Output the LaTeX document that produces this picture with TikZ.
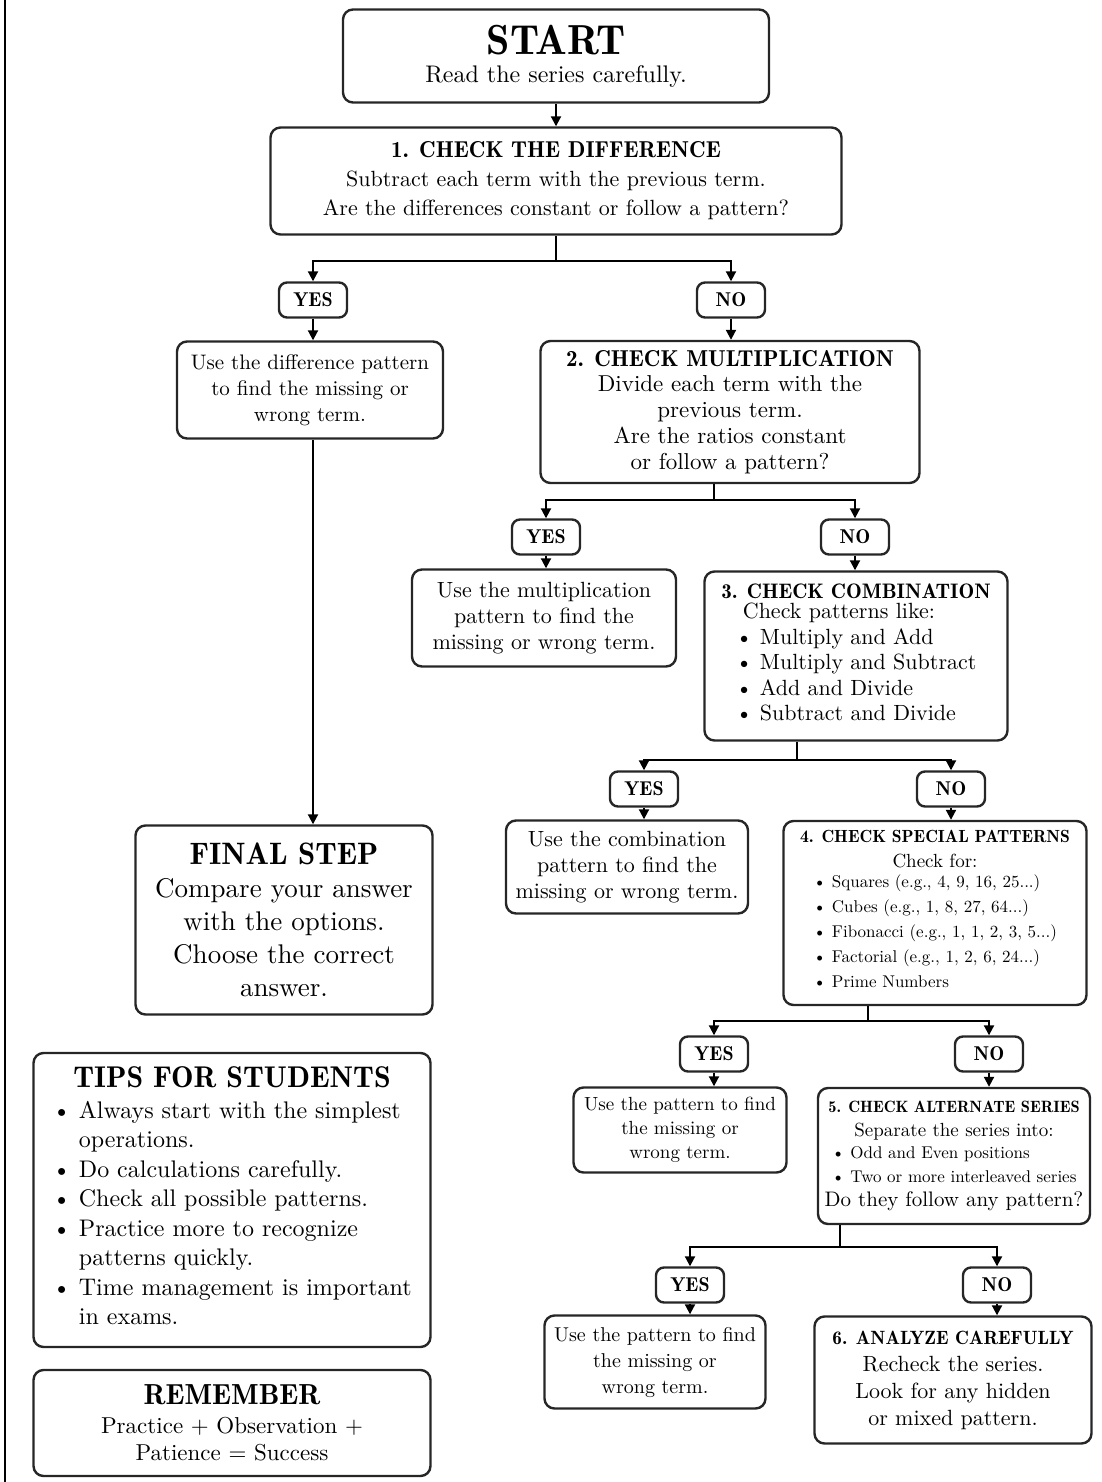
\documentclass[tikz,border=0pt]{standalone}
\usepackage{fontspec}
\setmainfont{lmroman10-regular.otf}[BoldFont=lmromandemi10-regular.otf]
\usepackage{tikz}
\usetikzlibrary{arrows.meta,positioning}

\begin{document}
\begin{tikzpicture}[x=0.5pt,y=-0.5pt]
  \tikzset{box/.style = {shape=rectangle,draw=black!85,line width=1.2pt,rounded corners=5pt,align=center,inner sep=2pt}}
  \tikzset{yesno/.style = {box,rounded corners=4pt,font=\bfseries\fontsize{10}{11}\selectfont,minimum width=34pt,minimum height=17.5pt}}
  \tikzset{line/.style = {line width=1pt}}
  \tikzset{%
  tipF/.tip={Triangle[length=5pt,width=5pt]},
}
  \tikzset{edge/.style = {-tipF,line width=1pt}}

  \useasboundingbox (0,0) rectangle (1102,1482);
  \draw[line width=1pt] (5,0) -- (5,1482);

	% main chain
	\node[box,minimum width=213pt,minimum height=46.5pt,font=\fontsize{12}{14}\selectfont] (start) at (556,56)
	  {{\fontsize{21}{26}\selectfont\bfseries START}\\ Read the series carefully.};
	\node[box,minimum width=285.5pt,minimum height=53.5pt,font=\fontsize{11}{14.5}\selectfont] (diff) at (556,181)
	  {{\fontsize{11.5}{14.5}\selectfont\bfseries 1. CHECK THE DIFFERENCE}\\ Subtract each term with the previous term.\\ Are the differences constant or follow a pattern?};
	\node[yesno] (yes1) at (313,300) {YES};
	\node[yesno] (no1) at (731,300) {NO};
	\node[box,minimum width=133pt,minimum height=48.5pt,font=\fontsize{10.5}{13}\selectfont] (usediff) at (310,390)
	  {Use the difference pattern\\ to find the missing or\\ wrong term.};
	\node[box,minimum width=189.5pt,minimum height=71pt,font=\fontsize{11.5}{12.9}\selectfont] (mult) at (730,412)
	  {{\fontsize{11.5}{13.5}\selectfont\bfseries 2. CHECK MULTIPLICATION}\\ Divide each term with the\\ previous term.\\ Are the ratios constant\\ or follow a pattern?};
	\node[yesno] (yes2) at (546,537) {YES};
	\node[yesno] (no2) at (855,537) {NO};
	\node[box,minimum width=132pt,minimum height=48.5pt,font=\fontsize{11}{13}\selectfont] (usemult) at (544,618)
	  {Use the multiplication\\ pattern to find the\\ missing or wrong term.};
	\node[box,minimum width=151.5pt,minimum height=84.5pt,font=\fontsize{11}{12.75}\selectfont] (comb) at (856,656)
	  {{\fontsize{10.5}{12.5}\selectfont\bfseries 3. CHECK COMBINATION}\\
	   \begin{tabular}{@{}l@{\ }l@{}}
	   \multicolumn{2}{@{}l@{}}{\ Check patterns like:}\\
	   \textbullet & Multiply and Add\\
	   \textbullet & Multiply and Subtract\\
	   \textbullet & Add and Divide\\
	   \textbullet & Subtract and Divide
	   \end{tabular}};
	\node[yesno] (yes3) at (644,789) {YES};
	\node[yesno] (no3) at (951,789) {NO};
	\node[box,minimum width=121pt,minimum height=46.5pt,font=\fontsize{11}{13}\selectfont] (usecomb) at (627,867)
	  {Use the combination\\ pattern to find the\\ missing or wrong term.};
	\node[box,minimum width=151.5pt,minimum height=92pt,font=\fontsize{8.5}{12.5}\selectfont] (special) at (935,913)
	  {{\fontsize{8.8}{12}\selectfont\bfseries 4. CHECK SPECIAL PATTERNS}\\
	   {\fontsize{9.5}{11}\selectfont Check for:}\\
	   \begin{tabular}{@{}l@{\ }l@{}}
	   \textbullet & Squares (e.g., 4, 9, 16, 25...)\\
	   \textbullet & Cubes (e.g., 1, 8, 27, 64...)\\
	   \textbullet & Fibonacci (e.g., 1, 1, 2, 3, 5...)\\
	   \textbullet & Factorial (e.g., 1, 2, 6, 24...)\\
	   \textbullet & Prime Numbers
	   \end{tabular}};
	\node[yesno] (yes4) at (714,1054) {YES};
	\node[yesno] (no4) at (989,1054) {NO};
	\node[box,minimum width=106.5pt,minimum height=42.5pt,font=\fontsize{9.5}{12}\selectfont] (usepat1) at (680,1130)
	  {Use the pattern to find\\ the missing or\\ wrong term.};
	\node[box,minimum width=136pt,minimum height=68pt,font=\fontsize{9.5}{12}\selectfont] (altern) at (954,1156)
	  {{\fontsize{8.2}{11}\selectfont\bfseries 5. CHECK ALTERNATE SERIES}\\
	   Separate the series into:\\
	   {\fontsize{8.5}{12}\selectfont\begin{tabular}{@{}l@{\ }l@{}}
	   \textbullet & Odd and Even positions\\
	   \textbullet & Two or more interleaved series
	   \end{tabular}}\\
	   {\fontsize{10.5}{12}\selectfont Do they follow any pattern?}};
	\node[yesno] (yes5) at (690,1285) {YES};
	\node[yesno] (no5) at (997,1285) {NO};
	\node[box,minimum width=110.5pt,minimum height=46.5pt,font=\fontsize{10}{13}\selectfont] (usepat2) at (655,1362)
	  {Use the pattern to find\\ the missing or\\ wrong term.};
	\node[box,minimum width=138.5pt,minimum height=63.5pt,font=\fontsize{11}{13.5}\selectfont] (analyze) at (953,1380)
	  {{\fontsize{9.6}{12}\selectfont\bfseries 6. ANALYZE CAREFULLY}\\ Recheck the series.\\ Look for any hidden\\ or mixed pattern.};

	% left column
	\node[box,minimum width=148.5pt,minimum height=94.5pt,font=\fontsize{13.5}{16.5}\selectfont] (final) at (284,920)
	  {{\fontsize{15.5}{18}\selectfont\bfseries FINAL STEP}\\ Compare your answer\\ with the options.\\ Choose the correct\\ answer.};
	\node[box,minimum width=198.5pt,minimum height=147pt,font=\fontsize{12}{14.75}\selectfont] (tips) at (232,1200)
	  {{\fontsize{15}{17}\selectfont\bfseries TIPS FOR STUDENTS}\\[4pt]
	   \begin{tabular}{@{}l@{\ }l@{}}
	   \textbullet & Always start with the simplest\\
	               & operations.\\
	   \textbullet & Do calculations carefully.\\
	   \textbullet & Check all possible patterns.\\
	   \textbullet & Practice more to recognize\\
	               & patterns quickly.\\
	   \textbullet & Time management is important\\
	               & in exams.
	   \end{tabular}};
	\node[box,minimum width=198.5pt,minimum height=53pt,font=\fontsize{11.5}{13.5}\selectfont] (remember) at (232,1423)
	  {{\fontsize{14.5}{17}\selectfont\bfseries REMEMBER}\\[1pt] Practice + Observation +\\ Patience = Success};

	\coordinate (j1) at (556,261);
	\coordinate (j2) at (714,500);
	\coordinate (j3) at (797,760);
	\coordinate (j4) at (868,1021);
	\coordinate (j5) at (840,1247);

    \foreach \from/\to in {start/diff, yes1/usediff, no1/mult, yes2/usemult, no2/comb, yes3/usecomb, no3/special, yes4/usepat1, no4/altern, yes5/usepat2, no5/analyze}
    \draw[edge] (\from.south) -- (\from.south |- \to.north);

    \draw[edge] (usediff.south -| yes1) -- (final.north -| yes1);

    \foreach \from/\j/\yes/\no in {diff/j1/yes1/no1, mult/j2/yes2/no2, comb/j3/yes3/no3, special/j4/yes4/no4, altern/j5/yes5/no5}
    {
    \draw[line] (\from.south -| \j) -- (\j);
    \draw[edge] (\j) -| (\yes);
    \draw[edge] (\j) -| (\no);
    }

\end{tikzpicture}
\end{document}
